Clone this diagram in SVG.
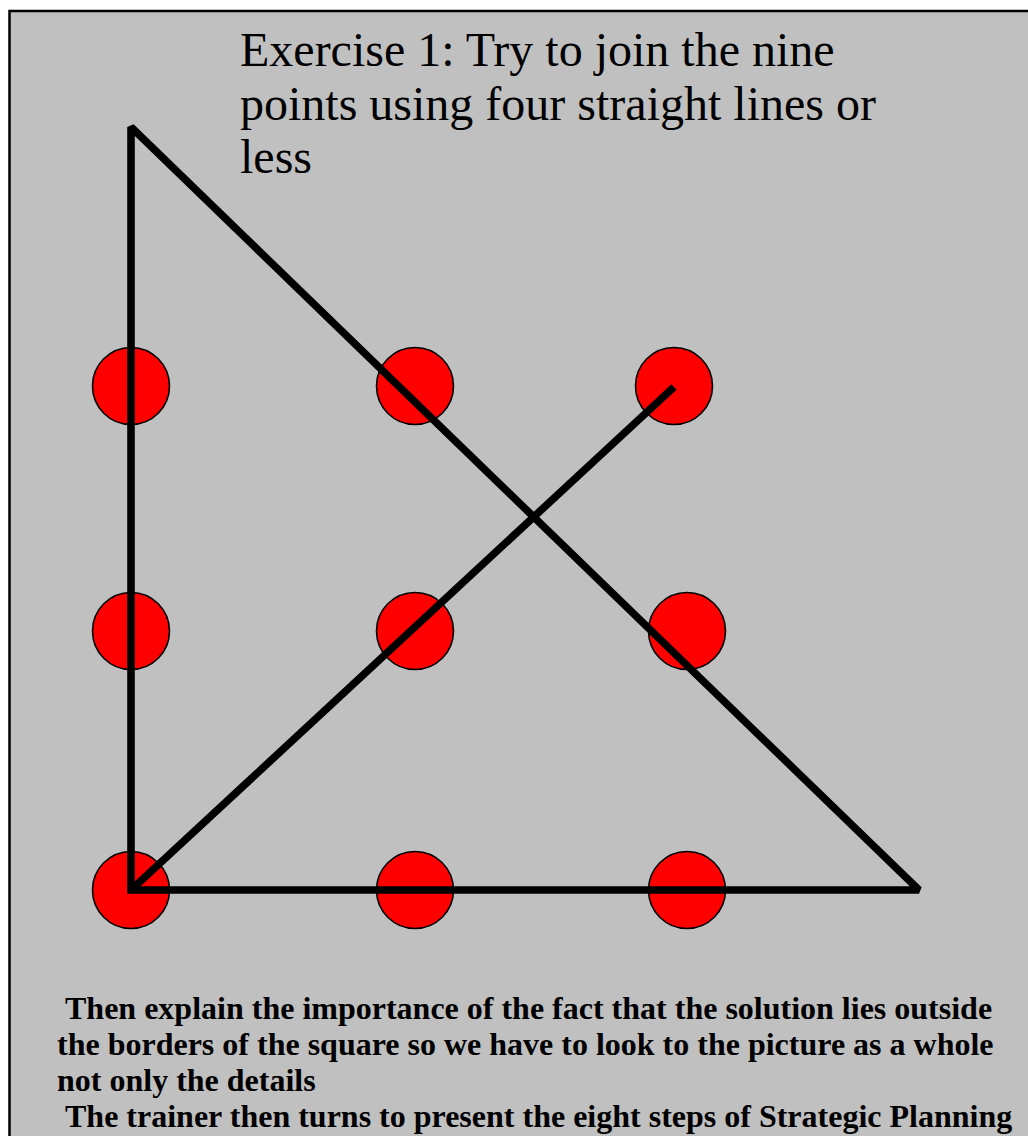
<svg xmlns="http://www.w3.org/2000/svg" width="1028" height="1136" viewBox="0 0 1028 1136">
  <style>
    .dot { fill: #ff0000; stroke: #000000; stroke-width: 1.6; }
    .ln { fill: none; stroke: #000000; stroke-width: 7.6; stroke-linecap: butt; stroke-linejoin: miter; stroke-miterlimit: 1.5; }
    .title { font-size: 48px; fill: #000000; }
    .note { font-size: 32px; font-weight: bold; fill: #000000; }
  </style>
  <rect x="9.5" y="11" width="1040" height="1150" fill="#c0c0c0" stroke="#000000" stroke-width="2.5"/>
  <g id="title" font-family="Liberation Serif, serif">
    <text class="title" x="240" y="66">Exercise 1: Try to join the nine</text>
    <text class="title" x="240" y="120">points using four straight lines or</text>
    <text class="title" x="240" y="173">less</text>
  </g>
  <g id="dot-1-1"><circle class="dot" cx="131" cy="386" r="38.5"/></g>
  <g id="dot-1-2"><circle class="dot" cx="415" cy="386" r="38.5"/></g>
  <g id="dot-1-3"><circle class="dot" cx="674" cy="386" r="38.5"/></g>
  <g id="dot-2-1"><circle class="dot" cx="131" cy="631" r="38.5"/></g>
  <g id="dot-2-2"><circle class="dot" cx="415" cy="631" r="38.5"/></g>
  <g id="dot-2-3"><circle class="dot" cx="687" cy="631" r="38.5"/></g>
  <g id="dot-3-1"><circle class="dot" cx="131" cy="890" r="38.5"/></g>
  <g id="dot-3-2"><circle class="dot" cx="415" cy="890" r="38.5"/></g>
  <g id="dot-3-3"><circle class="dot" cx="687" cy="890" r="38.5"/></g>
  <g id="connectors">
    <path class="ln" d="M131,890 L131,127 L919,890 Z"/>
    <line class="ln" x1="131" y1="890" x2="674" y2="387"/>
  </g>
  <g id="notes" font-family="Liberation Serif, serif">
    <text class="note" x="65" y="1019">Then explain the importance of the fact that the solution lies outside</text>
    <text class="note" x="57" y="1055">the borders of the square so we have to look to the picture as a whole</text>
    <text class="note" x="57" y="1091">not only the details</text>
    <text class="note" x="65" y="1127">The trainer then turns to present the eight steps of Strategic Planning</text>
  </g>
</svg>
